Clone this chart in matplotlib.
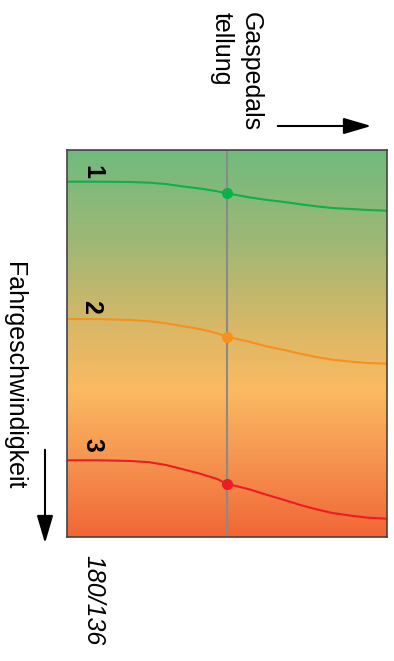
import numpy as np
import matplotlib
matplotlib.use("Agg")
import matplotlib.pyplot as plt
from matplotlib.colors import LinearSegmentedColormap

plt.rcParams['font.family'] = ['Liberation Sans', 'DejaVu Sans']

# Gaspedalstellung (0..100 %) und Fahrgeschwindigkeit (0..100, von oben nach unten)
gas = [0, 10, 20, 26, 31, 36, 42, 47, 50, 57, 62, 68, 73, 78, 83, 89, 94, 100]
kurve_1 = [8.19, 8.19, 8.27, 8.45, 8.79, 9.38, 10.0, 10.67, 11.19,
           12.22, 12.84, 13.44, 14.03, 14.55, 14.99, 15.25, 15.5, 15.68]
kurve_2 = [43.67, 43.67, 43.93, 44.26, 44.78, 45.48, 46.33, 47.36, 48.24,
           49.53, 50.65, 51.68, 52.64, 53.49, 54.19, 54.7, 55.04, 55.22]
kurve_3 = [80.18, 80.18, 80.36, 80.7, 81.4, 82.43, 83.72, 85.01, 86.23,
           87.67, 88.97, 90.44, 91.73, 92.84, 93.8, 94.5, 95.01, 95.27]
kurven = [kurve_1, kurve_2, kurve_3]
namen = ['1', '2', '3']
farben = ['#0DB04B', '#F7901E', '#EC1C24']
label_pos = [(7.9, 5.7), (7.6, 40.6), (8.2, 76.2)]
gas_punkt = 50

verlauf = LinearSegmentedColormap.from_list('verlauf', [
    (0.0, '#70BB7D'), (0.25, '#A2B775'), (0.47, '#DCB866'),
    (0.62, '#FBBA62'), (0.8, '#F59550'), (1.0, '#F16636')])

W, H = 394, 661
fig = plt.figure(figsize=(W / 100, H / 100), dpi=100)

# Ueberlagerte Achse fuer Beschriftungen in Pixelkoordinaten
bg = fig.add_axes([0, 0, 1, 1])
bg.set_xlim(0, W)
bg.set_ylim(H, 0)
bg.axis('off')

# Diagrammbereich
l, r, t, b = 66.7, 386.7, 150, 537
ax = fig.add_axes([l / W, 1 - b / H, (r - l) / W, (b - t) / H])
ax.set_xlim(0, 100)
ax.set_ylim(100, 0)
ax.imshow(np.linspace(0, 1, 256).reshape(-1, 1), cmap=verlauf, aspect='auto',
          extent=[0, 100, 100, 0], zorder=0)
ax.axvline(gas_punkt, color='#8A8A8A', lw=1.5, zorder=1)
for k, name, c, (lx, ly) in zip(kurven, namen, farben, label_pos):
    ax.plot(gas, k, color=c, lw=1.5, zorder=2)
    ax.plot(gas_punkt, k[gas.index(gas_punkt)], 'o', color=c, ms=7, zorder=3)
    ax.text(lx, ly, name, rotation=-90, fontsize=18, fontweight='bold',
            ha='center', va='center')
ax.set_xticks([])
ax.set_yticks([])
for s in ax.spines.values():
    s.set_color('#444444')
    s.set_linewidth(1.2)

# Achsenbeschriftungen
bg.text(236, 12, 'Gaspedals\ntellung', rotation=-90, fontsize=18,
        ha='center', va='top', multialignment='left', linespacing=1.25)
bg.annotate('', xy=(374, 126), xytext=(275, 126),
            arrowprops=dict(arrowstyle='-|>,head_length=1.7,head_width=0.5',
                            color='black', lw=1.5))
bg.text(14, 262, 'Fahrgeschwindigkeit', rotation=-90, fontsize=18,
        ha='center', va='top')
bg.annotate('', xy=(45, 546), xytext=(45, 447),
            arrowprops=dict(arrowstyle='-|>,head_length=1.7,head_width=0.5',
                            color='black', lw=1.5))
bg.text(93, 555, '180/136', rotation=-90, fontsize=18, style='italic',
        ha='center', va='top')

fig.savefig('out.png', dpi=100)
